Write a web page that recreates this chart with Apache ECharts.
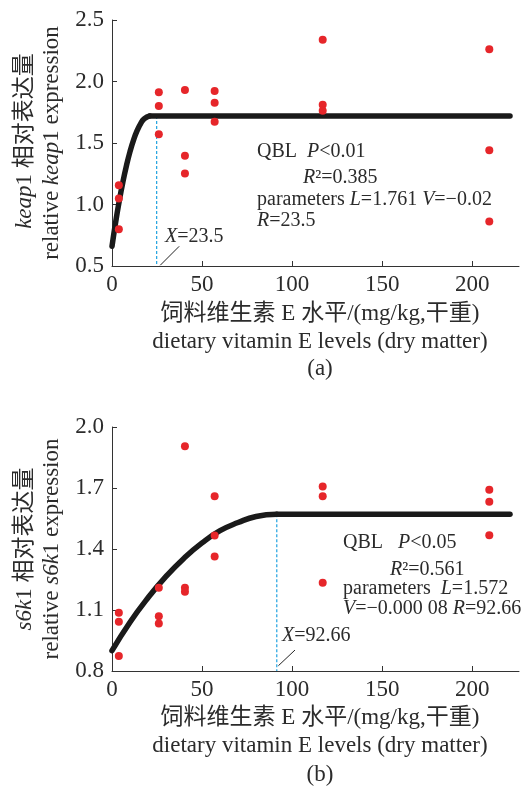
<!DOCTYPE html>
<html>
<head>
<meta charset="utf-8">
<script src="https://cdn.jsdelivr.net/npm/echarts@6/dist/echarts.min.js"></script>
<style>
html,body{margin:0;padding:0;background:#fff;}
#c{width:523px;height:788px;}
</style>
</head>
<body>
<div id="c"></div>
<script>
// ---------- data ----------
const doseLevels = [3.8, 26, 40.5, 57, 117, 209.5];
const xTicks = [0, 50, 100, 150, 200];

// (a) keap1 relative expression, three replicates per level
const keap1Rep1 = [1.157, 1.912, 1.931, 1.923, 2.340, 2.262];
const keap1Rep2 = [1.049, 1.800, 1.396, 1.828, 1.811, 1.442];
const keap1Rep3 = [0.799, 1.572, 1.252, 1.673, 1.762, 0.862];
// QBL fitted curve (a)
const keap1CurveX = [0, 2, 4, 6, 8, 10, 12, 14, 16, 18, 21];
const keap1CurveY = [0.66, 0.854, 1.026, 1.18, 1.314, 1.43, 1.526, 1.602, 1.66, 1.698, 1.72];
const keap1PlateauX = [21, 221];
const keap1PlateauY = [1.72, 1.72];
const keap1BreakX = 24.8;

// (b) s6k1 relative expression
const s6k1Rep1 = [1.086, 1.209, 1.905, 1.660, 1.707, 1.692];
const s6k1Rep2 = [1.042, 1.069, 1.209, 1.466, 1.660, 1.632];
const s6k1Rep3 = [0.874, 1.034, 1.190, 1.363, 1.234, 1.468];
const s6k1CurveX = [0, 10, 20, 30, 40, 50, 60, 70, 80, 91.5];
const s6k1CurveY = [0.90, 1.04, 1.16, 1.265, 1.355, 1.43, 1.49, 1.53, 1.56, 1.571];
const s6k1PlateauX = [91.5, 221];
const s6k1PlateauY = [1.571, 1.571];
const s6k1BreakX = 91.5;

// ---------- build ----------
const FONT = "'Liberation Serif','Noto Sans CJK SC',serif";
const TXT = '#2b2b2b';
const AX = '#333333';
const RED = '#e6262a';
const BLUE = '#1fa2e0';

function pts(xs, ys){ return xs.map((x,i)=>[x, ys[i]]); }
function scatterPts(reps){
  const out=[];
  reps.forEach(r=>doseLevels.forEach((x,i)=>out.push([x, r[i]])));
  return out;
}

function xAxis(gi){
  return {
    type:'value', gridIndex:gi, min:0, max:226, interval:50,
    axisLine:{show:true, lineStyle:{color:AX, width:1}},
    axisTick:{show:true, inside:true, length:5, customValues:xTicks, lineStyle:{color:AX}},
    axisLabel:{customValues:xTicks, color:TXT, fontSize:23, fontFamily:FONT, margin:7},
    splitLine:{show:false}
  };
}
function yAxis(gi, mn, mx, iv){
  return {
    type:'value', gridIndex:gi, min:mn, max:mx, interval:iv,
    axisLine:{show:true, lineStyle:{color:AX, width:1}},
    axisTick:{show:true, inside:true, length:5, lineStyle:{color:AX}},
    axisLabel:{color:TXT, fontSize:23, fontFamily:FONT, margin:8, formatter:v=>v.toFixed(1)},
    splitLine:{show:false}
  };
}

function curveSeries(gi, data, smooth){
  return {type:'line', xAxisIndex:gi, yAxisIndex:gi, data:data, smooth:smooth, showSymbol:false, symbol:'none',
    lineStyle:{color:'#1a1a1a', width:5.5, cap:'round', join:'round'}, z:3, silent:true, animation:false};
}
function dashSeries(gi, x, yTop, yBot){
  return {type:'line', xAxisIndex:gi, yAxisIndex:gi, data:[[x,yTop],[x,yBot]], symbol:'none',
    lineStyle:{color:BLUE, width:1.2, type:[3,2]}, z:2, silent:true, animation:false};
}
function leader(gi, data){
  return {type:'line', xAxisIndex:gi, yAxisIndex:gi, data:data, symbol:'none',
    lineStyle:{color:'#222', width:1}, z:2, silent:true, animation:false};
}
function scatter(gi, data){
  return {type:'scatter', xAxisIndex:gi, yAxisIndex:gi, data:data, symbol:'circle', symbolSize:8,
    itemStyle:{color:RED, opacity:1}, z:4, animation:false};
}

const rich = {
  n:{fontFamily:FONT, fontSize:20, fill:TXT, color:TXT},
  i:{fontFamily:FONT, fontSize:20, fontStyle:'italic', fill:TXT, color:TXT}
};
const richBig = {
  n:{fontFamily:FONT, fontSize:23, fill:TXT, color:TXT},
  i:{fontFamily:FONT, fontSize:23, fontStyle:'italic', fill:TXT, color:TXT}
};
function t(x, y, text, r, align){
  return {type:'text', x:x, y:y, silent:true,
    style:{text:text, rich:r||rich, fontFamily:FONT, fontSize:20, fill:TXT, align:align||'left', verticalAlign:'middle'}};
}
function vt(x, y, text){
  return {type:'text', x:x, y:y, rotation:Math.PI/2, silent:true,
    style:{text:text, rich:richBig, fontFamily:FONT, fontSize:23, fill:TXT, align:'center', verticalAlign:'middle'}};
}

const option = {
  animation:false,
  grid:[
    {left:112, right:4, top:20, height:246},
    {left:112, right:4, top:427, height:244}
  ],
  xAxis:[xAxis(0), xAxis(1)],
  yAxis:[yAxis(0,0.5,2.5,0.5), yAxis(1,0.8,2.0,0.3)],
  series:[
    dashSeries(0, keap1BreakX, keap1PlateauY[0], 0.5),
    leader(0, [[26.8,0.506],[37.3,0.66]]),
    curveSeries(0, pts(keap1CurveX, keap1CurveY), true),
    curveSeries(0, pts(keap1PlateauX, keap1PlateauY), false),
    scatter(0, scatterPts([keap1Rep1, keap1Rep2, keap1Rep3])),

    dashSeries(1, s6k1BreakX, s6k1PlateauY[0], 0.8),
    leader(1, [[92.4,0.826],[101.6,0.903]]),
    curveSeries(1, pts(s6k1CurveX, s6k1CurveY), true),
    curveSeries(1, pts(s6k1PlateauX, s6k1PlateauY), false),
    scatter(1, scatterPts([s6k1Rep1, s6k1Rep2, s6k1Rep3]))
  ],
  graphic:[
    // (a) annotations
    t(257, 152, '{n|QBL  }{i|P}{n|<0.01}'),
    t(303, 178, '{i|R}{n|²=0.385}'),
    t(257, 200, '{n|parameters }{i|L}{n|=1.761 }{i|V}{n|=−0.02}'),
    t(257, 221, '{i|R}{n|=23.5}'),
    t(165, 237, '{i|X}{n|=23.5}'),
    vt(25, 141, '{i|keap}{n|1 相对表达量}'),
    vt(52, 143, '{n|relative }{i|keap}{n|1 expression}'),
    t(320, 314, '{n|饲料维生素 E 水平/(mg/kg,干重)}', richBig, 'center'),
    t(320, 342, '{n|dietary vitamin E levels (dry matter)}', richBig, 'center'),
    t(320, 369, '{n|(a)}', richBig, 'center'),
    // (b) annotations
    t(343, 543, '{n|QBL   }{i|P}{n|<0.05}'),
    t(390, 570, '{i|R}{n|²=0.561}'),
    t(343, 589, '{n|parameters  }{i|L}{n|=1.572}'),
    t(343, 609, '{i|V}{n|=−0.000 08 }{i|R}{n|=92.66}'),
    t(282, 636, '{i|X}{n|=92.66}'),
    vt(25, 549, '{i|s6k}{n|1 相对表达量}'),
    vt(52, 549, '{n|relative }{i|s6k}{n|1 expression}'),
    t(320, 718, '{n|饲料维生素 E 水平/(mg/kg,干重)}', richBig, 'center'),
    t(320, 746, '{n|dietary vitamin E levels (dry matter)}', richBig, 'center'),
    t(320, 775, '{n|(b)}', richBig, 'center')
  ]
};

const chart = echarts.init(document.getElementById('c'), null, {renderer:'canvas'});
chart.setOption(option);
</script>
</body>
</html>
